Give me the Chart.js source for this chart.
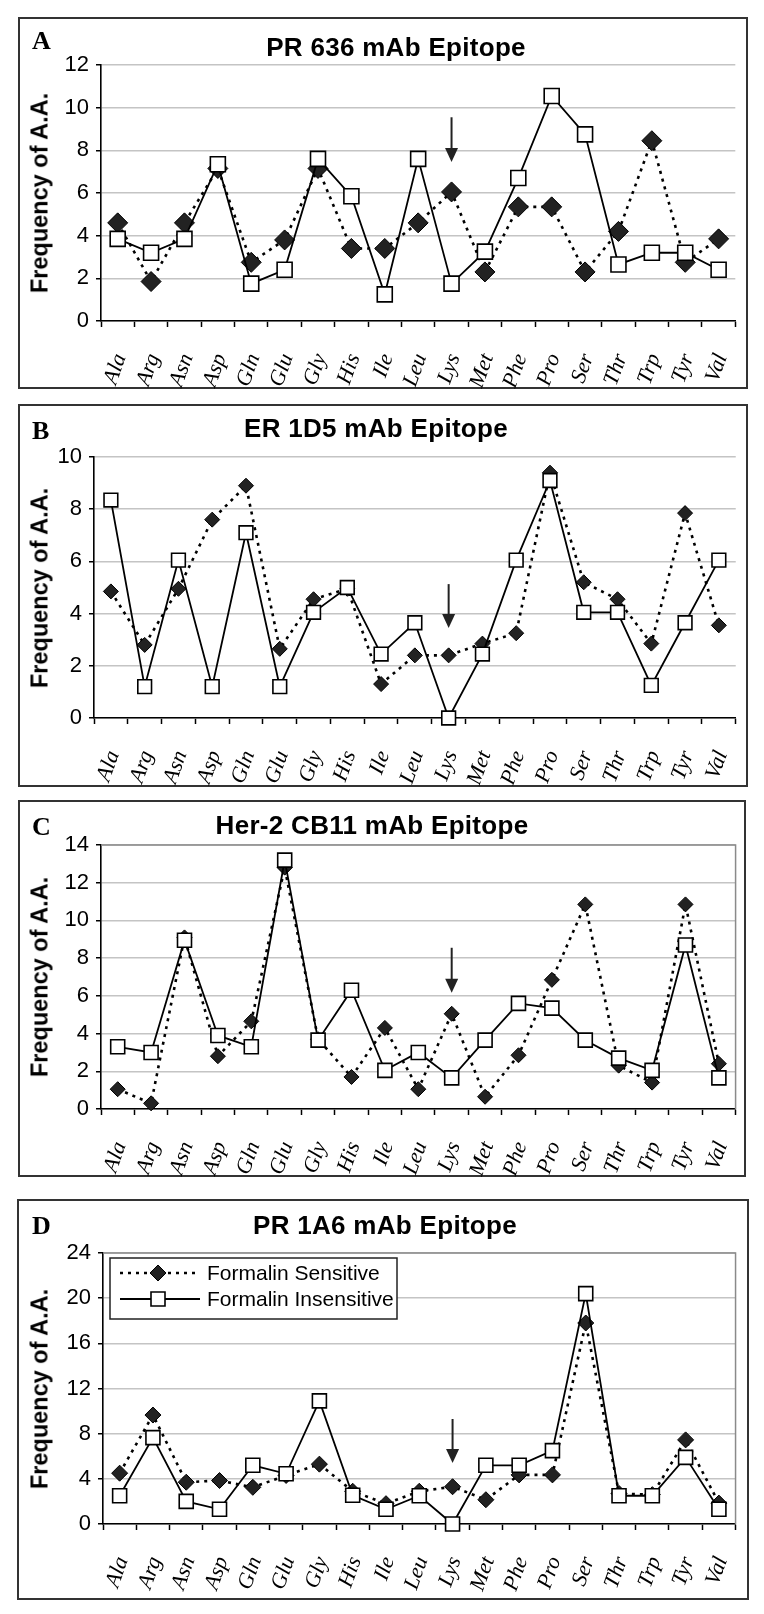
<!DOCTYPE html>
<html><head><meta charset="utf-8">
<script src="https://cdn.jsdelivr.net/npm/chart.js@4.4.1/dist/chart.umd.min.js"></script>
<style>
html,body{margin:0;padding:0;background:#fff;}
body{width:764px;height:1614px;position:relative;overflow:hidden;}
.panel{position:absolute;border:2px solid #333;box-sizing:border-box;}
.wrap{position:absolute;left:0;width:764px;}
.title{position:absolute;font:bold 26px "Liberation Sans",Arial,sans-serif;letter-spacing:0.3px;white-space:nowrap;transform:translate(-50%,-50%);color:#000;}
.letter{position:absolute;font:bold 26px "Liberation Serif","Times New Roman",serif;line-height:1;color:#000;}
.ytitle{position:absolute;font:bold 23.5px "Liberation Sans",Arial,sans-serif;white-space:nowrap;transform:translate(-50%,-50%) rotate(-90deg);color:#000;}
</style></head><body>
<script>
// ---------- data ----------
const categories = ['Ala','Arg','Asn','Asp','Gln','Glu','Gly','His','Ile','Leu','Lys','Met','Phe','Pro','Ser','Thr','Trp','Tyr','Val'];
const seriesNames = ['Formalin Sensitive','Formalin Insensitive'];

const titleA = 'PR 636 mAb Epitope';
const ticksA = [0,2,4,6,8,10,12];
const sensitiveA   = [4.6,1.85,4.6,7.15,2.75,3.8,7.15,3.4,3.4,4.6,6.05,2.3,5.35,5.35,2.3,4.2,8.45,2.75,3.85];
const insensitiveA = [3.85,3.2,3.85,7.35,1.75,2.4,7.6,5.85,1.25,7.6,1.75,3.25,6.7,10.55,8.75,2.65,3.2,3.2,2.4];

const titleB = 'ER 1D5 mAb Epitope';
const ticksB = [0,2,4,6,8,10];
const sensitiveB   = [4.85,2.8,4.95,7.6,8.9,2.65,4.55,4.95,1.3,2.4,2.4,2.85,3.25,9.4,5.2,4.55,2.85,7.85,3.55];
const insensitiveB = [8.35,1.2,6.05,1.2,7.1,1.2,4.05,5.0,2.45,3.65,0,2.45,6.05,9.1,4.05,4.05,1.25,3.65,6.05];

const titleC = 'Her-2 CB11 mAb Epitope';
const ticksC = [0,2,4,6,8,10,12,14];
const sensitiveC   = [1.05,0.3,9.1,2.8,4.65,12.8,3.7,1.7,4.3,1.05,5.05,0.65,2.85,6.85,10.85,2.3,1.4,10.85,2.4];
const insensitiveC = [3.3,3.0,8.95,3.9,3.3,13.2,3.65,6.3,2.05,3.0,1.65,3.65,5.6,5.35,3.65,2.7,2.05,8.7,1.65];

const titleD = 'PR 1A6 mAb Epitope';
const ticksD = [0,4,8,12,16,20,24];
const sensitiveD   = [4.5,9.65,3.7,3.85,3.25,4.3,5.3,2.9,1.8,2.9,3.3,2.15,4.35,4.35,17.8,2.7,2.6,7.45,1.85];
const insensitiveD = [2.5,7.65,2.0,1.3,5.2,4.45,10.9,2.55,1.3,2.5,0,5.2,5.2,6.5,20.4,2.5,2.5,5.9,1.3];

// arrow annotation (category, value at tail, value at tip)
const arrowCategory = 'Lys';
const arrowA = [9.55, 7.45];
const arrowB = [5.13, 3.45];
const arrowC = [8.55, 6.16];
const arrowD = [9.3, 5.4];

const yAxisTitle = 'Frequency of A.A.';

// ---------- layout ----------
const panels = [
  {letter:'A', title:titleA, ticks:ticksA, s:sensitiveA, i:insensitiveA, arrow:arrowA,
   box:[18,17,748,389], plot:[101,65,737,321], titleXY:[396,47], dR:10, sR:10.6, frame:false, legend:false},
  {letter:'B', title:titleB, ticks:ticksB, s:sensitiveB, i:insensitiveB, arrow:arrowB,
   box:[18,404,748,787], plot:[94,457,746,718], titleXY:[376,428], dR:7.5, sR:9.7, frame:false, legend:false},
  {letter:'C', title:titleC, ticks:ticksC, s:sensitiveC, i:insensitiveC, arrow:arrowC,
   box:[18,800,746,1177], plot:[101,845,747,1109], titleXY:[372,825], dR:7.5, sR:9.9, frame:true, legend:false},
  {letter:'D', title:titleD, ticks:ticksD, s:sensitiveD, i:insensitiveD, arrow:arrowD,
   box:[17,1199,749,1600], plot:[103,1253,748,1524], titleXY:[385,1225], dR:8, sR:9.9, frame:true, legend:true}
];

const arrowPlugin = {
  id:'arrowPlugin',
  afterDatasetsDraw(chart, args, opts){
    if(!opts || !opts.values) return;
    const xs = chart.scales.x, ys = chart.scales.y, ctx = chart.ctx;
    const x = xs.getPixelForValue(categories.indexOf(opts.category));
    const y1 = ys.getPixelForValue(opts.values[0]);
    const y2 = ys.getPixelForValue(opts.values[1]);
    ctx.save();
    ctx.strokeStyle = '#222'; ctx.fillStyle = '#222'; ctx.lineWidth = 2;
    ctx.beginPath(); ctx.moveTo(x, y1); ctx.lineTo(x, y2 - 12); ctx.stroke();
    ctx.beginPath(); ctx.moveTo(x - 6.5, y2 - 14); ctx.lineTo(x + 6.5, y2 - 14); ctx.lineTo(x, y2); ctx.closePath(); ctx.fill();
    ctx.restore();
  }
};

const framePlugin = {
  id:'framePlugin',
  beforeDatasetsDraw(chart, args, opts){
    if(!opts || !opts.show) return;
    const a = chart.chartArea, ctx = chart.ctx;
    ctx.save(); ctx.strokeStyle = '#8a8a8a'; ctx.lineWidth = 1.5;
    ctx.beginPath(); ctx.moveTo(a.left, a.top); ctx.lineTo(a.right, a.top); ctx.lineTo(a.right, a.bottom); ctx.stroke();
    ctx.restore();
  }
};

const legendPlugin = {
  id:'boxLegend',
  afterDraw(chart, args, opts){
    if(!opts || !opts.show) return;
    const ctx = chart.ctx, [x0,y0,x1,y1] = opts.rect;
    ctx.save();
    ctx.fillStyle = '#fff'; ctx.fillRect(x0,y0,x1-x0,y1-y0);
    ctx.strokeStyle = '#222'; ctx.lineWidth = 1.5; ctx.strokeRect(x0,y0,x1-x0,y1-y0);
    const rows = [y0 + 15, y0 + 41];
    chart.data.datasets.slice().sort((p,q)=>q.order-p.order).forEach((ds, k) => {
      const yy = rows[k];
      ctx.strokeStyle = '#000'; ctx.lineWidth = ds.borderWidth;
      ctx.setLineDash(ds.borderDash || []);
      ctx.beginPath(); ctx.moveTo(x0 + 10, yy); ctx.lineTo(x0 + 90, yy); ctx.stroke();
      ctx.setLineDash([]);
      ctx.fillStyle = ds.pointBackgroundColor; ctx.strokeStyle = ds.pointBorderColor; ctx.lineWidth = ds.pointBorderWidth;
      Chart.helpers.drawPoint(ctx, {pointStyle: ds.pointStyle, radius: ds.pointRadius, rotation: 0, borderWidth: ds.pointBorderWidth}, x0 + 48, yy);
      ctx.fillStyle = '#000'; ctx.font = '21px "Liberation Sans", Arial, sans-serif';
      ctx.textBaseline = 'middle'; ctx.textAlign = 'left';
      ctx.fillText(ds.label, x0 + 97, yy + 1);
    });
    ctx.restore();
  }
};

panels.forEach((p, idx) => {
  const [bx0,by0,bx1,by1] = p.box;
  const box = document.createElement('div');
  box.className = 'panel';
  Object.assign(box.style, {left:bx0+'px', top:by0+'px', width:(bx1-bx0)+'px', height:(by1-by0)+'px'});
  document.body.appendChild(box);

  const H = by1 - by0;
  const wrap = document.createElement('div');
  wrap.className = 'wrap';
  Object.assign(wrap.style, {top:by0+'px', height:H+'px'});
  const cv = document.createElement('canvas');
  cv.width = 764; cv.height = H;
  wrap.appendChild(cv);
  document.body.appendChild(wrap);

  const t = document.createElement('div'); t.className = 'title'; t.textContent = p.title;
  Object.assign(t.style, {left:p.titleXY[0]+'px', top:p.titleXY[1]+'px'});
  document.body.appendChild(t);
  const l = document.createElement('div'); l.className = 'letter'; l.textContent = p.letter;
  Object.assign(l.style, {left:'32px', top:(by0 + (idx===0?11:14))+'px'});
  document.body.appendChild(l);
  const yt = document.createElement('div'); yt.className = 'ytitle'; yt.textContent = yAxisTitle;
  Object.assign(yt.style, {left:'40px', top:((p.plot[1]+p.plot[3])/2)+'px'});
  document.body.appendChild(yt);

  const YW = 70;
  const [px0,py0,px1,py1] = p.plot;
  const XH = H - (py1 - by0);
  const padding = {left: px0 - YW, right: 764 - px1, top: py0 - by0, bottom: 0};
  const tk = p.ticks;

  new Chart(cv, {
    type:'line',
    data:{
      labels: categories,
      datasets:[
        {label: seriesNames[0], data: p.s, order: 2, borderColor:'#000', borderWidth:2.6, borderDash:[3,5], borderCapStyle:'butt',
         pointStyle:'rectRot', pointRadius:p.dR, pointBackgroundColor:'#222', pointBorderColor:'#000', pointBorderWidth:1, tension:0, fill:false, clip:false},
        {label: seriesNames[1], data: p.i, order: 1, borderColor:'#000', borderWidth:1.8,
         pointStyle:'rect', pointRadius:p.sR, pointBackgroundColor:'#fff', pointBorderColor:'#000', pointBorderWidth:1.6, tension:0, fill:false, clip:false}
      ]
    },
    options:{
      responsive:false, animation:false, devicePixelRatio:1,
      layout:{padding, autoPadding:false},
      plugins:{
        legend:{display:false}, tooltip:{enabled:false}, title:{display:false},
        arrowPlugin:{category: arrowCategory, values: p.arrow},
        framePlugin:{show: p.frame},
        boxLegend:{show: p.legend, rect:[110, 1258-by0, 397, 1319-by0]}
      },
      scales:{
        x:{
          type:'category', offset:true,
          grid:{display:true, drawOnChartArea:false, drawTicks:true, tickLength:6, tickColor:'#000', tickWidth:1.5, offset:true},
          border:{display:true, color:'#000', width:1.6},
          ticks:{autoSkip:false, maxRotation:70, minRotation:70, padding:24, labelOffset:3, color:'#000',
                 font:{family:'"Liberation Serif","Times New Roman",serif', style:'italic', size:22, lineHeight:1}},
          afterFit(s){ s.height = XH; }
        },
        y:{
          min: tk[0], max: tk[tk.length-1],
          afterBuildTicks(s){ s.ticks = tk.map(v => ({value:v})); },
          grid:{color:'#c4c4c4', lineWidth:1.5, drawTicks:true, tickLength:5, tickColor:'#000', tickWidth:1.5},
          border:{display:true, color:'#000', width:1.6},
          ticks:{padding:7, color:'#000', font:{family:'"Liberation Sans",Arial,sans-serif', size:22}},
          afterFit(s){ s.width = YW; }
        }
      }
    },
    plugins:[arrowPlugin, framePlugin, legendPlugin]
  });
});
</script>
</body></html>
